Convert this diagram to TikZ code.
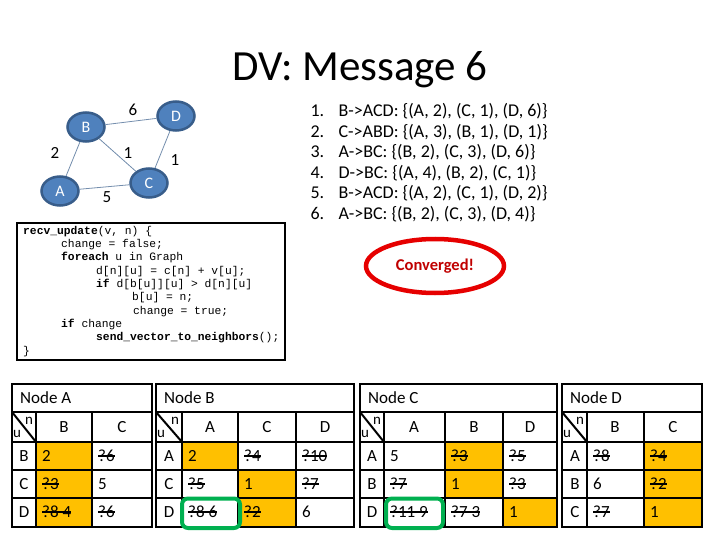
\documentclass[tikz,border=0pt]{standalone}
\usepackage{fontspec}
\setmainfont{Carlito}
\setmonofont{Liberation Mono}
\usetikzlibrary{shapes.geometric}

\definecolor{routerfill}{RGB}{79,129,189}
\definecolor{routerline}{RGB}{56,93,138}
\definecolor{bestgold}{RGB}{255,192,0}
\definecolor{markgreen}{RGB}{0,176,80}
\definecolor{convred}{RGB}{230,0,0}
\definecolor{convtext}{RGB}{192,0,0}

% struck-out value
\newsavebox{\stalebox}
\newcommand{\stale}[1]{\sbox{\stalebox}{#1}\rlap{\rule[0.3em]{\wd\stalebox}{1.3pt}}\usebox{\stalebox}}

\tikzset{
    router/.style={ellipse, draw=routerline, line width=2.5pt, fill=routerfill,
        text=white, minimum width=37pt, minimum height=29pt, inner sep=0pt,
        font=\fontsize{16}{19}\selectfont},
    link/.style={draw=routerline!70, line width=0.8pt},
    cost/.style={font=\fontsize{17}{20}\selectfont},
    grid/.style={line width=2pt},
    tabtext/.style={inner sep=0pt, font=\fontsize{17}{20}\selectfont},
    val/.style={tabtext, anchor=west},
    corner/.style={inner sep=0pt, font=\fontsize{15}{18}\selectfont},
    codetext/.style={anchor=north west, align=left, inner sep=0pt,
        font=\ttfamily\fontsize{11.3}{13.3}\selectfont},
    msg/.style={anchor=base west, font=\fontsize{18}{20}\selectfont}
}

\begin{document}
\begin{tikzpicture}[x=1pt, y=-1pt]
    \useasboundingbox (0,0) rectangle (720,540);

    % Title
    \node[anchor=base, font=\fontsize{43}{50}\selectfont] (title) at (360,81) {DV: Message 6};

    % Network
    \node[router] (B) at (86,127) {B};
    \node[router] (D) at (176,116) {D};
    \node[router] (C) at (149,183) {C};
    \node[router] (A) at (60,191) {A};
    \draw[link] (A) -- (B);
    \draw[link] (B) -- (D);
    \draw[link] (B) -- (C);
    \draw[link] (D) -- (C);
    \draw[link] (A) -- (C);
    \node[cost] (wBD) at (133,110) {6};
    \node[cost] (wAB) at (55,153) {2};
    \node[cost] (wBC) at (128,153) {1};
    \node[cost] (wCD) at (175,160) {1};
    \node[cost] (wAC) at (107,197) {5};

    % Pseudo code
    \draw[line width=2.4pt] (17,223) rectangle (285,360);
    \node[codetext] (code) at (23,226) {\textbf{recv\_update}(v, n) \{\\
        \hspace*{38pt}change = false;\\
        \hspace*{38pt}\textbf{foreach} u in Graph\\
        \hspace*{73pt}d[n][u] = c[n] + v[u];\\
        \hspace*{73pt}\textbf{if} d[b[u]][u] > d[n][u]\\
        \hspace*{109pt}b[u] = n;\\
        \hspace*{110pt}change = true;\\
        \hspace*{38pt}\textbf{if} change\\
        \hspace*{73pt}\textbf{send\_vector\_to\_neighbors}();\\
        \}};

    % Messages
    \foreach \txt [count=\i] in {
        {B->ACD: \{(A, 2), (C, 1), (D, 6)\}},
        {C->ABD: \{(A, 3), (B, 1), (D, 1)\}},
        {A->BC: \{(B, 2), (C, 3), (D, 6)\}},
        {D->BC: \{(A, 4), (B, 2), (C, 1)\}},
        {B->ACD: \{(A, 2), (C, 1), (D, 2)\}},
        {A->BC: \{(B, 2), (C, 3), (D, 4)\}}} {
        \node[msg] (num\i) at (307,{117+20.4*(\i-1)}) {\i.};
        \node[msg] (msg\i) at (335,{117+20.4*(\i-1)}) {\txt};
    }

    \node[ellipse, draw=convred, line width=4.5pt, minimum width=138pt, minimum height=54pt,
        text=convtext, font=\bfseries\fontsize{16.5}{20}\selectfont] (conv) at (435,266) {Converged!};

    % Node A table
    \fill[bestgold] (36,442) rectangle (92,527);
    \draw[grid] (12,384) rectangle (152,527);
    \foreach \y in {412,442,470,498} \draw[grid] (12,\y) -- (152,\y);
    \foreach \x in {36,92} \draw[grid] (\x,412) -- (\x,527);
    \draw[grid] (12,412) -- (36,442);
    \node[val] (tabA) at (20,398) {Node A};
    \node[corner] (nA) at (29,421) {n};
    \node[corner] (uA) at (17,434) {u};
    \foreach \c/\x in {B/64,C/122} \node[tabtext] (colA\c) at (\x,427) {\c};
    \foreach \r/\y/\a/\b in {B/456/2/{\stale{?6}}, C/484/{\stale{?3}}/5,
        D/512/{\stale{?8 4}}/{\stale{?6}}} {
        \node[tabtext] (A\r) at (24,\y) {\r};
        \node[val] (A\r-B) at (42,\y) {\a};
        \node[val] (A\r-C) at (98,\y) {\b};
    }

    % Node B table
    \fill[bestgold] (182,442) rectangle (238,470);
    \fill[bestgold] (238,470) rectangle (296,527);
    \draw[grid] (156,384) rectangle (354,527);
    \foreach \y in {412,442,470,498} \draw[grid] (156,\y) -- (354,\y);
    \foreach \x in {182,238,296} \draw[grid] (\x,412) -- (\x,527);
    \draw[grid] (156,412) -- (182,442);
    \node[val] (tabB) at (164,398) {Node B};
    \node[corner] (nB) at (175,421) {n};
    \node[corner] (uB) at (161,434) {u};
    \foreach \c/\x in {A/210,C/267,D/325} \node[tabtext] (colB\c) at (\x,427) {\c};
    \foreach \r/\y/\a/\b/\d in {A/456/2/{\stale{?4}}/{\stale{?10}},
        C/484/{\stale{?5}}/1/{\stale{?7}}, D/512/{\stale{?8 6}}/{\stale{?2}}/6} {
        \node[tabtext] (B\r) at (169,\y) {\r};
        \node[val] (B\r-A) at (188,\y) {\a};
        \node[val] (B\r-C) at (244,\y) {\b};
        \node[val] (B\r-D) at (302,\y) {\d};
    }

    % Node C table
    \fill[bestgold] (445,442) rectangle (503,498);
    \fill[bestgold] (503,498) rectangle (557,527);
    \draw[grid] (360,384) rectangle (557,527);
    \foreach \y in {412,442,470,498} \draw[grid] (360,\y) -- (557,\y);
    \foreach \x in {384,445,503} \draw[grid] (\x,412) -- (\x,527);
    \draw[grid] (360,412) -- (384,442);
    \node[val] (tabC) at (368,398) {Node C};
    \node[corner] (nC) at (377,421) {n};
    \node[corner] (uC) at (365,434) {u};
    \foreach \c/\x in {A/414,B/474,D/530} \node[tabtext] (colC\c) at (\x,427) {\c};
    \foreach \r/\y/\a/\b/\d in {A/456/5/{\stale{?3}}/{\stale{?5}},
        B/484/{\stale{?7}}/1/{\stale{?3}}, D/512/{\stale{?11 9}}/{\stale{?7 3}}/1} {
        \node[tabtext] (C\r) at (372,\y) {\r};
        \node[val] (C\r-A) at (390,\y) {\a};
        \node[val] (C\r-B) at (451,\y) {\b};
        \node[val] (C\r-D) at (509,\y) {\d};
    }

    % Node D table
    \fill[bestgold] (644,442) rectangle (702,527);
    \draw[grid] (562,384) rectangle (702,527);
    \foreach \y in {412,442,470,498} \draw[grid] (562,\y) -- (702,\y);
    \foreach \x in {587,644} \draw[grid] (\x,412) -- (\x,527);
    \draw[grid] (562,412) -- (587,442);
    \node[val] (tabD) at (570,398) {Node D};
    \node[corner] (nD) at (580,421) {n};
    \node[corner] (uD) at (567,434) {u};
    \foreach \c/\x in {B/615,C/673} \node[tabtext] (colD\c) at (\x,427) {\c};
    \foreach \r/\y/\a/\b in {A/456/{\stale{?8}}/{\stale{?4}}, B/484/6/{\stale{?2}},
        C/512/{\stale{?7}}/1} {
        \node[tabtext] (D\r) at (575,\y) {\r};
        \node[val] (D\r-B) at (593,\y) {\a};
        \node[val] (D\r-C) at (650,\y) {\b};
    }

    % Highlight the changed entries
    \draw[markgreen, line width=4pt, rounded corners=6pt] (182,498.5) rectangle (240,528);
    \draw[markgreen, line width=4pt, rounded corners=6pt] (386,498.5) rectangle (443,528);
\end{tikzpicture}
\end{document}
